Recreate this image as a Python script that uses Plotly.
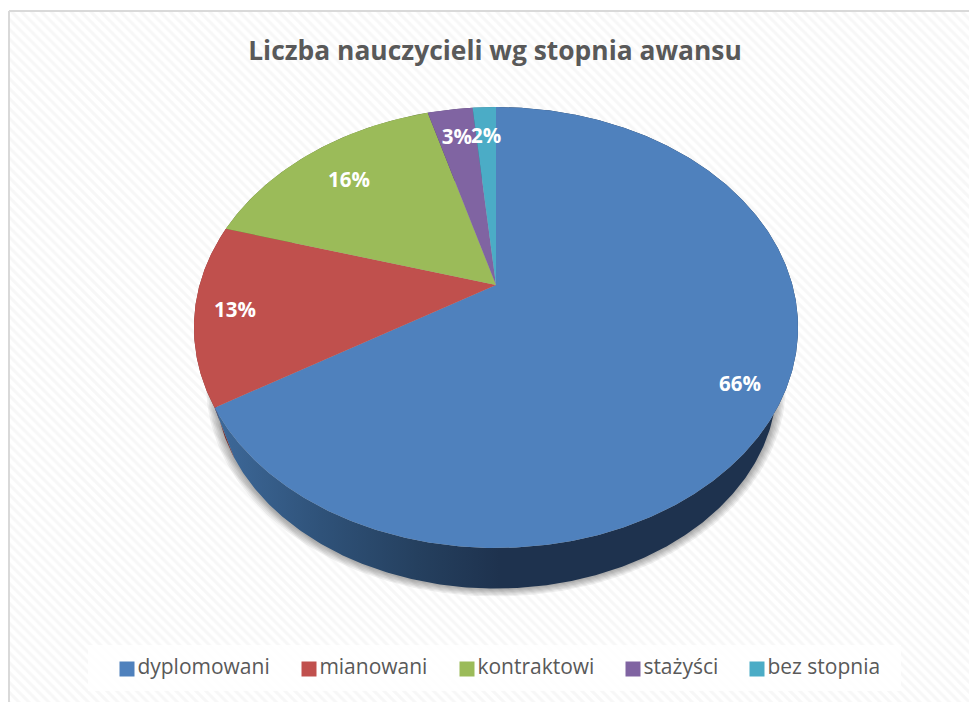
import numpy as np
import plotly.graph_objects as go

# ---- data ----
categories = ["dyplomowani", "mianowani", "kontraktowi", "stażyści", "bez stopnia"]
values = [66.3, 13.2, 16.1, 2.9, 1.5]
labels = ["66%", "13%", "16%", "3%", "2%"]
colors = ["#4f81bd", "#c0504d", "#9bbb59", "#8064a2", "#4bacc6"]
wall_colors = ["#1e324e", "#7a2f2d", "#5f7436", "#4d3b62", "#2c6a7a"]
title = "Liczba nauczycieli wg stopnia awansu"

# ---- layout constants (axis units equal page pixels) ----
W, H = 969, 702
CX, CY = 496.0, 285.0        # apex of the pie on the top face
A, B, K = 296.4, 212.3, 0.1927   # tilted-disc projection of the top face
S, LOWER_CY = 0.93, 344.0    # projection of the lower rim
LABEL_FRAC = [0.855, 0.866, 0.80, 0.85, 0.84]
LABEL_DY = 2.5
LEGEND_X = [127, 309, 467, 633, 757]
LEGEND_Y = 669
FONT = "'Open Sans', sans-serif"


def rim(theta):
    """Offset of the disc rim at clockwise angle theta (radians from top)."""
    d = 1 + K * np.cos(theta)
    return A * np.sin(theta) / d, -B * np.cos(theta) / d


total = sum(values)
edges = np.concatenate([[0.0], np.cumsum(values)]) / total * 2 * np.pi
arcs = [np.linspace(edges[i], edges[i + 1], max(int(values[i] * 8), 12))
        for i in range(len(values))]

fig = go.Figure()

# patterned chart area with its thin frame
fig.add_trace(go.Scatter(
    x=[9, W + 5, W + 5, 9, 9], y=[11, 11, H + 5, H + 5, 11], mode="lines",
    fill="toself", fillcolor="#ffffff",
    fillpattern=dict(shape="\\", size=7, solidity=0.45, fgcolor="#f0f0f0", bgcolor="#ffffff"),
    line=dict(color="#d9d9d9", width=2), hoverinfo="skip", showlegend=False))

# legend backing
fig.add_trace(go.Scatter(
    x=[88, 901, 901, 88, 88], y=[645, 645, 691, 691, 645], mode="lines",
    fill="toself", fillcolor="rgba(255,255,255,0.8)", line=dict(width=0),
    hoverinfo="skip", showlegend=False))

# soft shadow below the disc
all_t = np.linspace(0, 2 * np.pi, 361)
ox, oy = rim(all_t)
for d in [9, 7.5, 6, 4.5, 3, 1.5]:
    f = S * (1 + d / 281)
    fig.add_trace(go.Scatter(
        x=CX + f * ox, y=LOWER_CY + f * oy, mode="lines", fill="toself",
        fillcolor="rgba(0,0,0,0.06)", line=dict(width=0),
        hoverinfo="skip", showlegend=False))

# side walls (smaller slices first, the main one last)
for i in range(len(values) - 1, -1, -1):
    tx, ty = rim(arcs[i])
    kw = dict(fillcolor=wall_colors[i])
    if i == 0:
        kw = dict(fillgradient=dict(
            type="horizontal", start=225, stop=500,
            colorscale=[[0, "#3c6797"], [0.35, "#2f5279"], [0.7, "#25405f"], [1, "#1e324e"]]))
    fig.add_trace(go.Scatter(
        x=np.concatenate([CX + tx, (CX + S * tx)[::-1]]),
        y=np.concatenate([CY + ty, (LOWER_CY + S * ty)[::-1]]),
        mode="lines", fill="toself", line=dict(width=0),
        hoverinfo="skip", showlegend=False, **kw))

# top faces
for i in range(len(values)):
    tx, ty = rim(arcs[i])
    fig.add_trace(go.Scatter(
        x=np.concatenate([[CX], CX + tx, [CX]]),
        y=np.concatenate([[CY], CY + ty, [CY]]),
        mode="lines", fill="toself", fillcolor=colors[i], line=dict(width=0),
        hoverinfo="skip", showlegend=False))

# data labels
mids = (edges[:-1] + edges[1:]) / 2
lx, ly = rim(mids)
fig.add_trace(go.Scatter(
    x=CX + np.array(LABEL_FRAC) * lx, y=CY + LABEL_DY + np.array(LABEL_FRAC) * ly,
    mode="text", text=labels,
    textfont=dict(family=FONT, size=20.5, color="#ffffff", weight="bold"),
    hoverinfo="skip", showlegend=False))

# legend entries
for name, col, lgx in zip(categories, colors, LEGEND_X):
    fig.add_trace(go.Scatter(
        x=[lgx], y=[LEGEND_Y], mode="markers+text", name=name, text=[name],
        textposition="middle right",
        textfont=dict(family=FONT, size=21, color="#595959"),
        marker=dict(symbol="square", size=15, color=col),
        hoverinfo="skip", showlegend=False))

fig.update_layout(
    width=W, height=H, autosize=False,
    margin=dict(l=0, r=0, t=0, b=0),
    paper_bgcolor="#ffffff", plot_bgcolor="rgba(0,0,0,0)",
    xaxis=dict(range=[0, W], visible=False, fixedrange=True),
    yaxis=dict(range=[H, 0], visible=False, fixedrange=True),
    showlegend=False,
    title=dict(text=title, x=495 / W, y=1 - 51 / H,
               xanchor="center", yanchor="middle", xref="paper", yref="paper",
               font=dict(family=FONT, size=26.4, color="#595959", weight="bold")),
)

fig.write_html(
    "out.html", config={"displayModeBar": False},
    post_script="document.documentElement.style.overflow='hidden';document.body.style.margin='0';")
